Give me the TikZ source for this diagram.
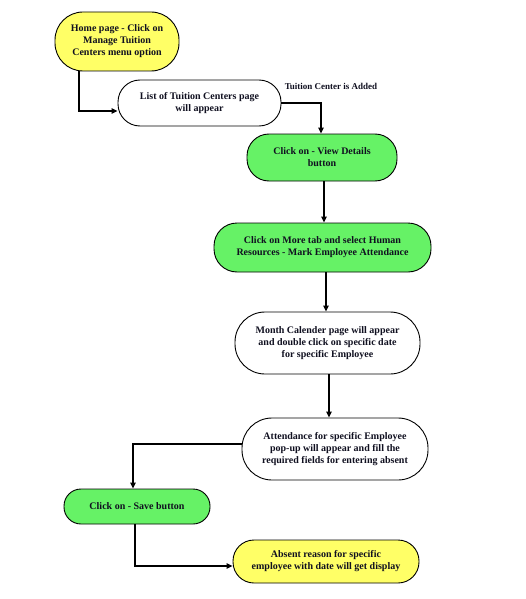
\documentclass[tikz,border=0pt]{standalone}
\usepackage{fontspec}
\setmainfont{Liberation Serif}
\usetikzlibrary{arrows.meta}
\definecolor{yel}{HTML}{FFFF66}
\definecolor{grn}{HTML}{66F266}
\definecolor{txt}{HTML}{101020}
\begin{document}
\begin{tikzpicture}[x=1pt,y=-1pt,
  box/.style={draw=black, line width=0.9pt, align=center, text=txt,
    font=\fontsize{10}{12}\selectfont\bfseries, inner sep=0pt},
  conn/.style={line width=1.1pt, -{Triangle[length=6pt,width=5.5pt]}},
  lbl/.style={text=txt, font=\fontsize{9}{10}\selectfont\bfseries, inner sep=0pt}
]
\useasboundingbox (0,0) rectangle (525,599);
\node[box, fill=yel, minimum width=124pt, minimum height=59pt, rounded corners=28pt] (n1) at (117,41.5)
  {Home page - Click on\\Manage Tuition\\Centers menu option};
\node[box, fill=white, minimum width=163pt, minimum height=46pt, rounded corners=22pt] (n2) at (199.5,103)
  {List of Tuition Centers page\\will appear};
\node[lbl] (lab) at (331,86) {Tuition Center is Added};
\node[box, fill=grn, minimum width=150pt, minimum height=47pt, rounded corners=22pt] (n3) at (322,157.5)
  {Click on - View Details\\button};
\node[box, fill=grn, minimum width=217pt, minimum height=49pt, rounded corners=23pt] (n4) at (322.5,247.5)
  {Click on More tab and select Human\\Resources - Mark Employee Attendance};
\node[box, fill=white, minimum width=185pt, minimum height=62pt, rounded corners=30pt] (n5) at (327.5,343)
  {Month Calender page will appear\\and double click on specific date\\for specific Employee};
\node[box, fill=white, minimum width=186pt, minimum height=62pt, rounded corners=30pt] (n6) at (335,449)
  {Attendance for specific Employee\\pop-up will appear and fill the\\required fields for entering absent};
\node[box, fill=grn, minimum width=146pt, minimum height=35pt, rounded corners=17pt] (n7) at (137,506.5)
  {Click on - Save button};
\node[box, fill=yel, minimum width=186pt, minimum height=43pt, rounded corners=21pt] (n8) at (326,561.5)
  {Absent reason for specific\\employee with date will get display};
\coordinate (a12) at (79,111);
\coordinate (a23) at (321,103);
\coordinate (a34) at (324,0);
\coordinate (a45) at (326,0);
\coordinate (a56) at (329,0);
\coordinate (a67) at (133,444);
\coordinate (a78) at (135,566);
\draw[conn] (n1.south -| a12) |- (n2.west |- a12);
\draw[conn] (n2.east) -| (n3.north -| a23);
\draw[conn] (n3.south -| a34) -- (n4.north -| a34);
\draw[conn] (n4.south -| a45) -- (n5.north -| a45);
\draw[conn] (n5.south -| a56) -- (n6.north -| a56);
\draw[conn] (n6.west |- a67) -| (n7.north -| a67);
\draw[conn] (n7.south -| a78) |- (n8.west |- a78);
\end{tikzpicture}
\end{document}
